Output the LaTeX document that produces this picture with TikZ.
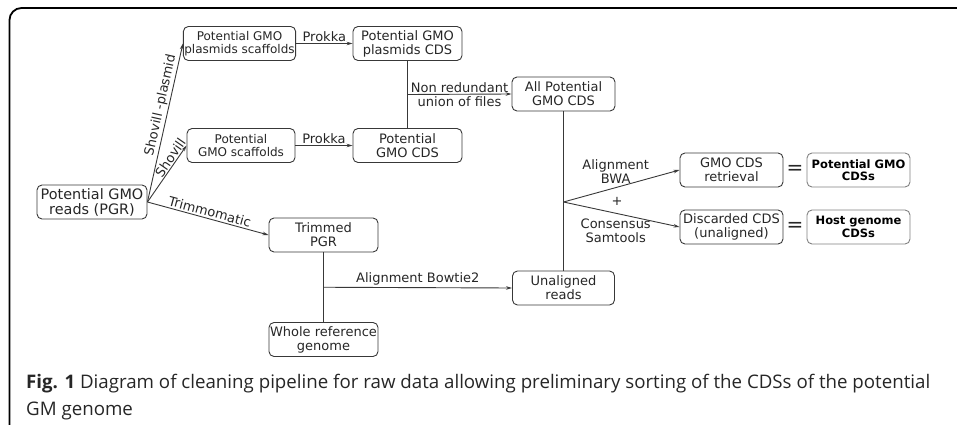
\documentclass[tikz,border=0pt]{standalone}
\usepackage{fontspec}
\setmainfont{DejaVu Sans}
\newfontfamily\capfont{Open Sans}
\usetikzlibrary{arrows.meta,calc}
\definecolor{inkgray}{HTML}{262626}
\definecolor{linegray}{HTML}{383838}

\begin{document}
\begin{tikzpicture}[x=1pt,y=-1pt,
    box/.style={draw=linegray, line width=0.9pt, rounded corners=5pt, align=center, minimum height=34pt,
        inner xsep=1pt, inner ysep=2pt, text=inkgray, font=\fontsize{13}{14}\selectfont},
    result/.style={box, draw=gray, text=black, font=\fontsize{11.5}{12.5}\selectfont\bfseries},
    flow/.style={draw=linegray, line width=0.9pt, -{Stealth[length=6pt,width=3.5pt]}},
    link/.style={draw=linegray, line width=0.9pt},
    lbl/.style={text=inkgray, inner sep=1.5pt, align=center, font=\fontsize{13}{14}\selectfont},
    capt/.style={anchor=base west, inner sep=0pt, text=inkgray, font=\capfont\fontsize{18.7}{22}\selectfont}]
    \useasboundingbox (0,0) rectangle (957,425);
    % frame
    \draw[line width=1.8pt, rounded corners=12pt] (957,8) -- (9.5,8) -- (9.5,425);

    % boxes
    \node[box, minimum width=110pt, font=\fontsize{14.4}{15}\selectfont] at (92,202) (pgr) {Potential GMO\\reads (PGR)};
    \node[box, minimum width=111pt, font=\fontsize{12}{13}\selectfont] at (239.5,43.5) (pscaf) {Potential GMO\\plasmids scaffolds};
    \node[box, minimum width=109pt] at (407.5,43.5) (pcds) {Potential GMO\\plasmids CDS};
    \node[box, minimum width=108pt, font=\fontsize{12}{13}\selectfont] at (241,145.5) (gscaf) {Potential\\GMO scaffolds};
    \node[box, minimum width=109pt] at (407.5,145.5) (gcds) {Potential\\GMO CDS};
    \node[box, minimum width=103pt] at (563.5,94) (all) {All Potential\\GMO CDS};
    \node[box, minimum width=109pt] at (323.5,235) (trim) {Trimmed\\PGR};
    \node[box, minimum width=109pt] at (323.5,339.5) (whole) {Whole reference\\genome};
    \node[box, minimum width=102pt] at (563.5,288) (unal) {Unaligned\\reads};
    \node[box, minimum width=103pt] at (731.5,170) (retr) {GMO CDS\\retrieval};
    \node[box, minimum width=103pt] at (731.5,227) (disc) {Discarded CDS\\(unaligned)};
    \node[result, minimum width=103pt] at (858.5,170) (pcdss) {Potential GMO\\CDSs};
    \node[result, minimum width=103pt] at (858.5,227) (host) {Host genome\\CDSs};
    \node[text=inkgray, font=\fontsize{20}{20}\selectfont] at (795,170) (eq1) {=};
    \node[text=inkgray, font=\fontsize{20}{20}\selectfont] at (795,227) (eq2) {=};

    % junctions
    \coordinate (j1) at ($(pcds.south)!0.5!(gcds.north)$);
    \coordinate (j2) at ($(trim.south)!0.5!(whole.north)$);
    \coordinate (j3) at (563.5,202);

    % connectors
    \draw[flow] (pgr.east) -- (pscaf.west) node[lbl, pos=0.6, sloped, above] {Shovill -plasmid};
    \draw[flow] (pgr.east) -- (gscaf.west) node[lbl, pos=0.72, sloped, above, inner sep=1pt] {Shovill};
    \draw[flow] (pgr.east) -- (trim.west) node[lbl, midway, sloped, above] {Trimmomatic};
    \draw[flow] (pscaf) -- (pcds) node[lbl, midway, above] {Prokka};
    \draw[flow] (gscaf) -- (gcds) node[lbl, midway, above] {Prokka};
    \draw[link] (pcds) -- (gcds);
    \draw[flow] (j1) -- (all.west) node[lbl, midway] {Non redundant\\union of files};
    \draw[link] (trim) -- (whole);
    \draw[flow] (j2) -- (unal.west) node[lbl, midway, above] {Alignment Bowtie2};
    \draw[link] (unal) -- (all);
    \draw[flow] (j3) -- (retr.west) node[lbl, pos=0.45, above=2pt] {Alignment\\BWA};
    \draw[flow] (j3) -- (disc.west) node[lbl, pos=0.45, below=4pt] {Consensus\\Samtools};
    \node[lbl] at (617,201) (plus) {+};

    % caption
    \node[capt] at (26,388) (cap1) {\textbf{Fig. 1} Diagram of cleaning pipeline for raw data allowing preliminary sorting of the CDSs of the potential};
    \node[capt] at (26,415) (cap2) {GM genome};
\end{tikzpicture}
\end{document}
